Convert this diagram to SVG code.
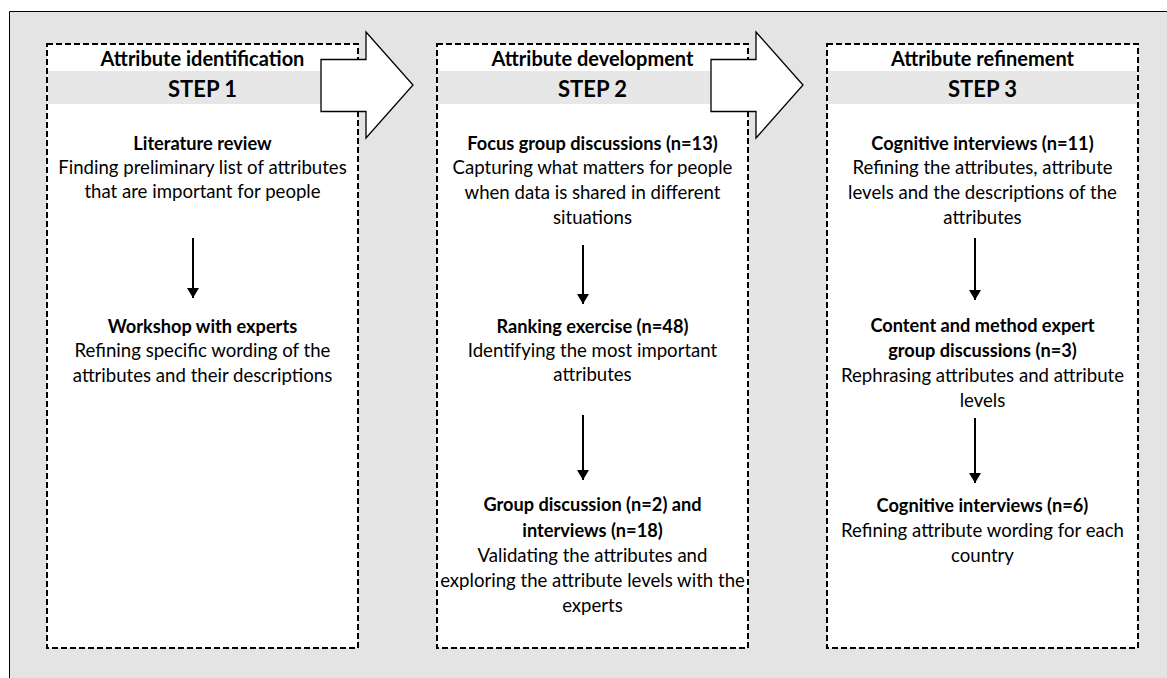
<svg xmlns="http://www.w3.org/2000/svg" width="1167" height="678" viewBox="0 0 1167 678">
<style>
  .box { fill: #ffffff; stroke: #000000; stroke-width: 2; stroke-dasharray: 6 3; }
  .band { fill: #e7e7e7; }
  .big { fill: #ffffff; stroke: #000000; stroke-width: 1.3; stroke-linejoin: miter; }
  .hd { font-family: Lato, "Liberation Sans", sans-serif; font-weight: bold; font-size: 20px; fill: #000; text-anchor: middle; }
  .step { font-family: Lato, "Liberation Sans", sans-serif; font-weight: bold; font-size: 22px; fill: #000; text-anchor: middle; }
  .b { font-family: Lato, "Liberation Sans", sans-serif; font-weight: bold; font-size: 18.2px; fill: #000; text-anchor: middle; }
  .r { font-family: Lato, "Liberation Sans", sans-serif; font-size: 18.6px; fill: #000; text-anchor: middle; }
  .conn { stroke: #000; stroke-width: 2; fill: none; }
</style>
<defs>
  <marker id="ah" viewBox="0 0 10 12" refX="10" refY="6" markerWidth="10" markerHeight="12" markerUnits="userSpaceOnUse" orient="auto">
    <path d="M0,0 L10,6 L0,12 Z" fill="#000"/>
  </marker>
</defs>
<rect x="9" y="11" width="1158" height="667" fill="#e4e4e4"/>
<path d="M9.5,678 V11.5 H1167" fill="none" stroke="#000" stroke-width="1"/>

<g id="step1">
  <rect class="box" x="47" y="44" width="311" height="604"/>
  <rect class="band" x="48" y="71" width="309" height="33"/>
  <text class="hd" x="202.5" y="66">Attribute identification</text>
  <text class="step" x="202.5" y="97">STEP 1</text>
  <text class="b" x="202.5" y="150">Literature review</text>
  <text class="r" x="202.5" y="174">Finding preliminary list of attributes</text>
  <text class="r" x="202.5" y="198">that are important for people</text>
  <text class="b" x="202.5" y="333">Workshop with experts</text>
  <text class="r" x="202.5" y="357">Refining specific wording of the</text>
  <text class="r" x="202.5" y="382">attributes and their descriptions</text>
</g>

<g id="step2">
  <rect class="box" x="437" y="44" width="311" height="604"/>
  <rect class="band" x="438" y="71" width="309" height="33"/>
  <text class="hd" x="592.5" y="66">Attribute development</text>
  <text class="step" x="592.5" y="97">STEP 2</text>
  <text class="b" x="592.5" y="150">Focus group discussions (n=13)</text>
  <text class="r" x="592.5" y="174">Capturing what matters for people</text>
  <text class="r" x="592.5" y="199">when data is shared in different</text>
  <text class="r" x="592.5" y="224">situations</text>
  <text class="b" x="592.5" y="333">Ranking exercise (n=48)</text>
  <text class="r" x="592.5" y="357">Identifying the most important</text>
  <text class="r" x="592.5" y="381">attributes</text>
  <text class="b" x="592.5" y="511">Group discussion (n=2) and</text>
  <text class="b" x="592.5" y="537">interviews (n=18)</text>
  <text class="r" x="592.5" y="562">Validating the attributes and</text>
  <text class="r" x="592.5" y="587">exploring the attribute levels with the</text>
  <text class="r" x="592.5" y="612">experts</text>
</g>

<g id="step3">
  <rect class="box" x="827" y="44" width="311" height="604"/>
  <rect class="band" x="828" y="71" width="309" height="33"/>
  <text class="hd" x="982.5" y="66">Attribute refinement</text>
  <text class="step" x="982.5" y="97">STEP 3</text>
  <text class="b" x="982.5" y="150">Cognitive interviews (n=11)</text>
  <text class="r" x="982.5" y="174">Refining the attributes, attribute</text>
  <text class="r" x="982.5" y="199">levels and the descriptions of the</text>
  <text class="r" x="982.5" y="224">attributes</text>
  <text class="b" x="982.5" y="332">Content and method expert</text>
  <text class="b" x="982.5" y="357">group discussions (n=3)</text>
  <text class="r" x="982.5" y="382">Rephrasing attributes and attribute</text>
  <text class="r" x="982.5" y="407">levels</text>
  <text class="b" x="982.5" y="512">Cognitive interviews (n=6)</text>
  <text class="r" x="982.5" y="537">Refining attribute wording for each</text>
  <text class="r" x="982.5" y="562">country</text>
</g>

<g id="connectors">
  <path class="big" d="M321,59.5 H366 V32 L413,85 L366,138 V111.5 H321 Z"/>
  <path class="big" d="M711,59.5 H756 V32 L803,85 L756,138 V111.5 H711 Z"/>
  <line class="conn" x1="193" y1="238" x2="193" y2="298" marker-end="url(#ah)"/>
  <line class="conn" x1="583" y1="245" x2="583" y2="304" marker-end="url(#ah)"/>
  <line class="conn" x1="583" y1="415" x2="583" y2="480" marker-end="url(#ah)"/>
  <line class="conn" x1="975" y1="238" x2="975" y2="300" marker-end="url(#ah)"/>
  <line class="conn" x1="975" y1="418" x2="975" y2="483" marker-end="url(#ah)"/>
</g>
</svg>
